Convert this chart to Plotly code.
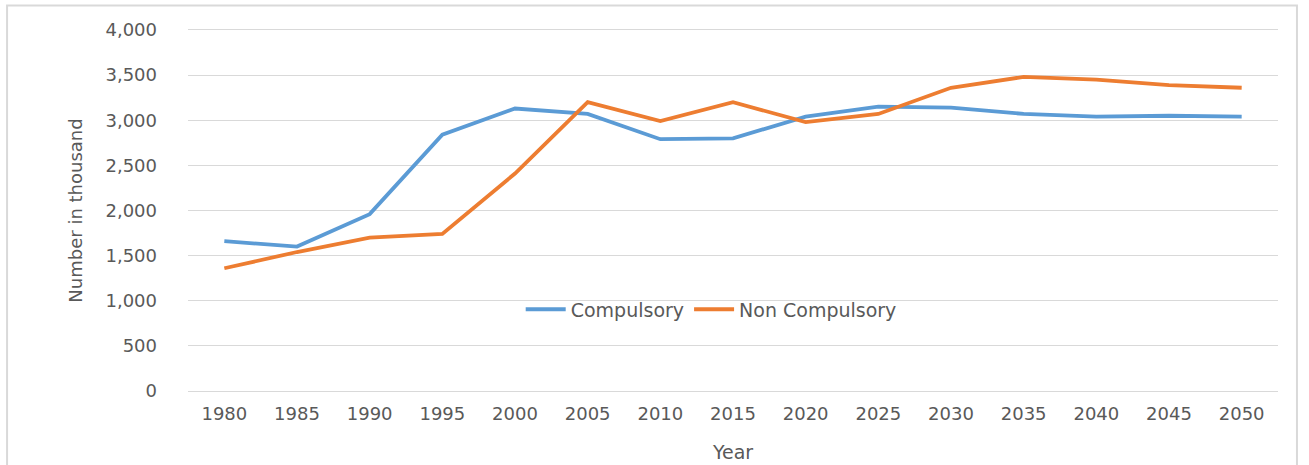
import plotly.graph_objects as go

years = ["1980", "1985", "1990", "1995", "2000", "2005", "2010", "2015",
         "2020", "2025", "2030", "2035", "2040", "2045", "2050"]
compulsory = [1660, 1600, 1960, 2840, 3130, 3070, 2790, 2800,
              3040, 3150, 3140, 3070, 3040, 3050, 3040]
non_compulsory = [1360, 1540, 1700, 1740, 2410, 3200, 2990, 3200,
                  2980, 3070, 3360, 3480, 3450, 3390, 3360]
y_ticks = [0, 500, 1000, 1500, 2000, 2500, 3000, 3500, 4000]

FONT = "DejaVu Sans"
GRAY = "#595959"
GRID = "#d9d9d9"

fig = go.Figure()
fig.add_trace(go.Scatter(x=years, y=compulsory, mode="lines", name="Compulsory",
                         line=dict(color="#5B9BD5", width=3.8)))
fig.add_trace(go.Scatter(x=years, y=non_compulsory, mode="lines", name="Non Compulsory",
                         line=dict(color="#ED7D31", width=3.8)))

fig.update_layout(
    width=1309, height=465,
    margin=dict(l=188, r=31, t=30, b=74),
    paper_bgcolor="white", plot_bgcolor="white",
    font=dict(family=FONT, size=18, color=GRAY),
    legend=dict(orientation="h", x=0.48, y=0.226, xanchor="center", yanchor="middle",
                bgcolor="rgba(0,0,0,0)", font=dict(size=19, color=GRAY),
                itemwidth=40, tracegroupgap=0),
    showlegend=True,
)
fig.update_xaxes(type="category", range=[-0.5, 14.5], showgrid=False, automargin=False,
                 showline=True, mirror=True, linecolor=GRID, linewidth=1,
                 ticks="", ticklabelstandoff=6, tickfont=dict(size=18, color=GRAY),
                 title=dict(text="Year", font=dict(size=19, color=GRAY), standoff=23))
fig.update_yaxes(range=[0, 4000], tickvals=y_ticks, tickformat=",", automargin=False,
                 showgrid=True, gridcolor=GRID, gridwidth=1,
                 zeroline=False, ticks="", ticklabelstandoff=30,
                 tickfont=dict(size=18, color=GRAY),
                 title=dict(text="Number in thousand", font=dict(size=18, color=GRAY), standoff=18))

fig.add_shape(type="rect", xref="paper", yref="paper",
              x0=-0.166, x1=1.0174, y0=-0.25, y1=1.068,
              line=dict(color=GRID, width=2), fillcolor="rgba(0,0,0,0)", layer="below")

fig.write_html("out.html", config={"displayModeBar": False},
               post_script="document.body.style.margin='0';")
